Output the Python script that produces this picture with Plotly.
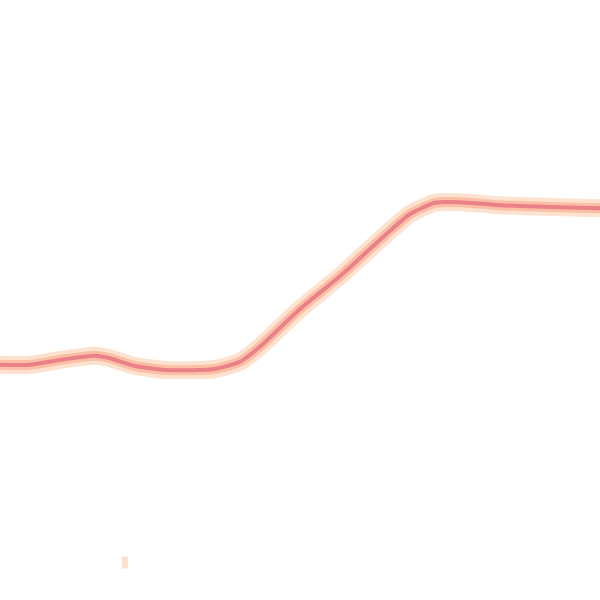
import plotly.graph_objects as go

# values (x: 0-100, y: 0-100)
x_vals = [0, 5, 10, 15.8, 18.3, 22.5, 28.3, 35.8, 40, 43.3, 50, 56.7, 63.3, 68.3, 72.5, 76.7, 83.3, 91.7, 100]
y_vals = [39.2, 39.2, 40, 40.7, 40.3, 39, 38.3, 38.5, 39.7, 42.2, 48.5, 54, 60, 64.3, 66.2, 66.3, 65.8, 65.5, 65.3]
dot_x = [20.8, 20.8]
dot_y = [6.75, 5.75]

fig = go.Figure()

# soft halo, then mid band, then core line
for color, width in [('#fde3cf', 18), ('#fbbfa6', 10), ('#ea8088', 4)]:
    fig.add_trace(go.Scatter(
        x=x_vals, y=y_vals, mode='lines',
        line=dict(color=color, width=width, shape='spline', smoothing=0.6),
        hoverinfo='skip', showlegend=False,
    ))

fig.add_trace(go.Scatter(
    x=dot_x, y=dot_y, mode='markers',
    marker=dict(symbol='square', size=6, color='#fde0c8', line=dict(width=0)),
    hoverinfo='skip', showlegend=False,
))

fig.update_layout(
    width=600, height=600,
    margin=dict(l=0, r=0, t=0, b=0),
    paper_bgcolor='white', plot_bgcolor='white',
    xaxis=dict(range=[0, 100], visible=False, fixedrange=True),
    yaxis=dict(range=[0, 100], visible=False, fixedrange=True),
)

# drop the browser's default body margin so the plot sits flush in the window
fig.write_html("out.html", post_script="document.body.style.margin = '0';",
               config={'displayModeBar': False})
